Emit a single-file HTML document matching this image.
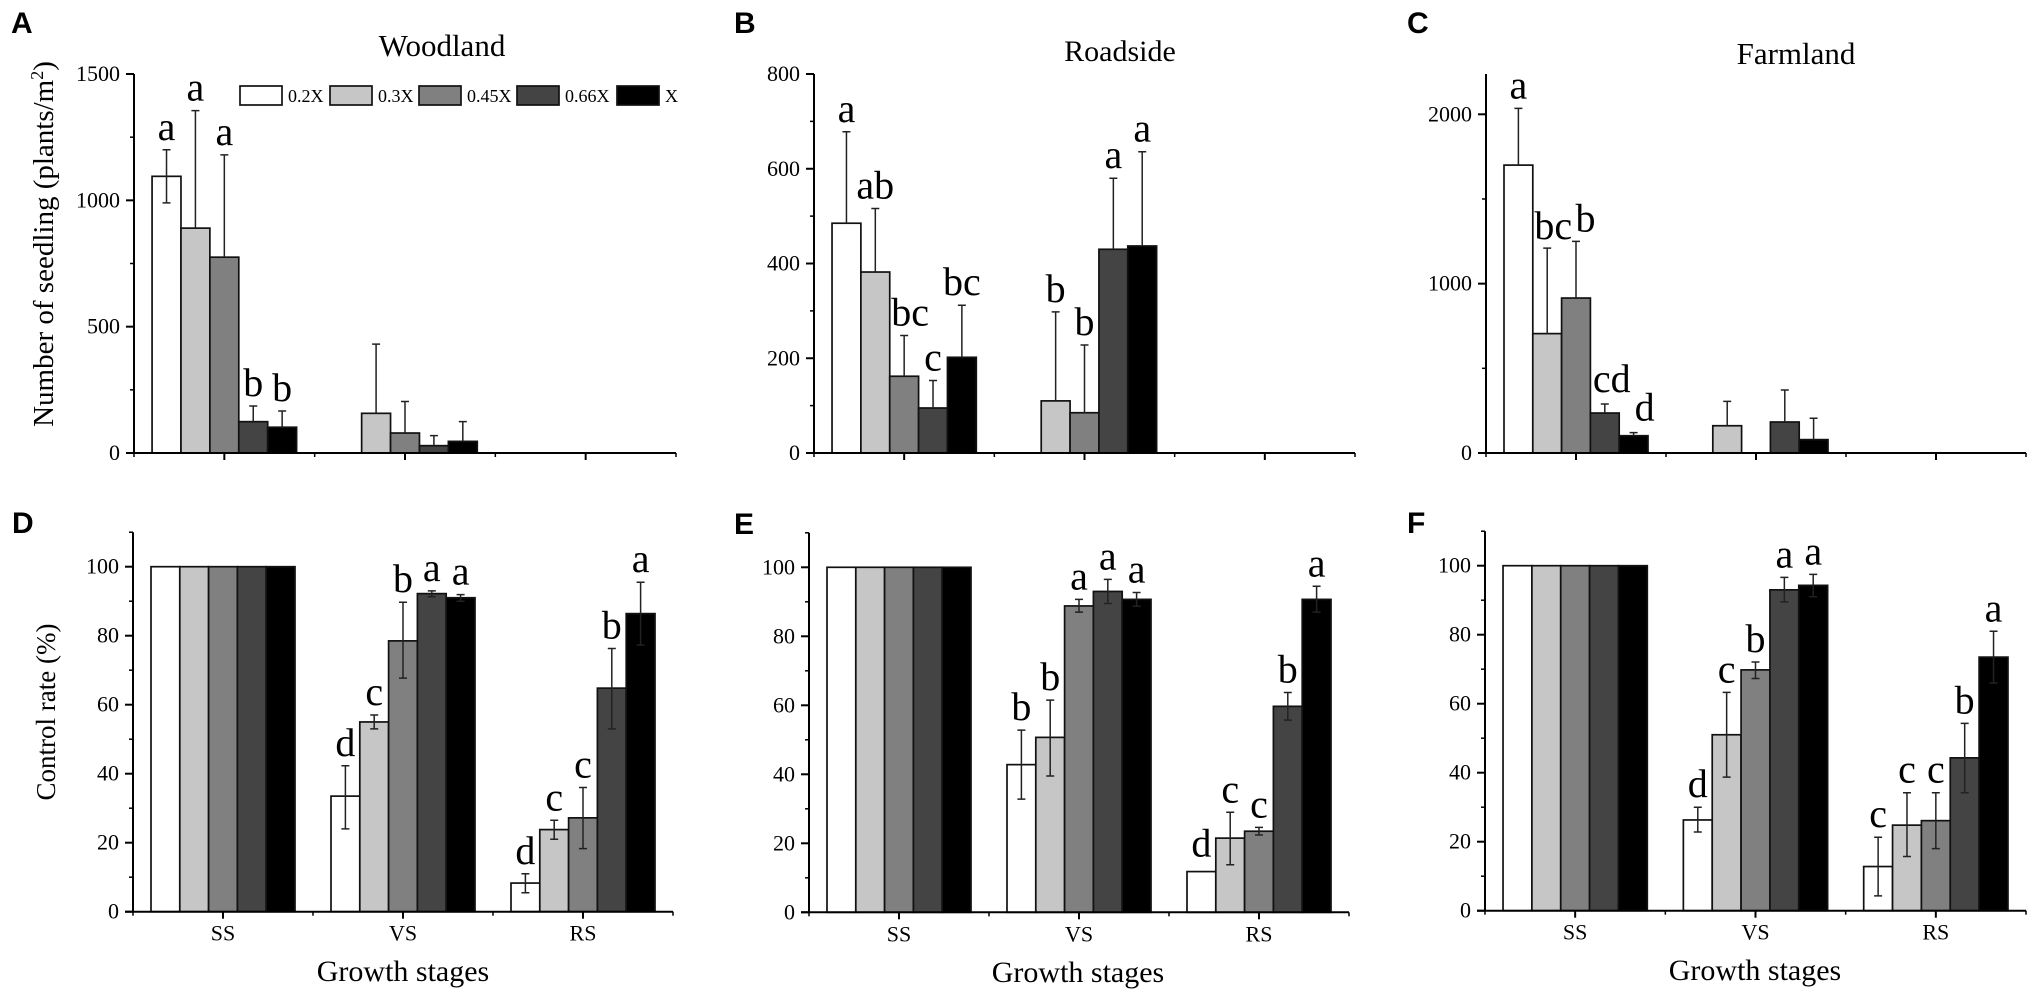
<!DOCTYPE html>
<html lang="en">
<head>
<meta charset="utf-8">
<title>Seedling number and control rate by growth stage</title>
<style>
html,body{margin:0;padding:0;background:#fff;}
svg{display:block;}
text{font-family:"Liberation Serif",serif;fill:#000;}
.panel-letter{font-family:"Liberation Sans",sans-serif;font-weight:700;font-size:30px;}
</style>
</head>
<body>
<svg id="figure" xmlns="http://www.w3.org/2000/svg" width="2033" height="992" viewBox="0 0 2033 992">
  <rect x="0" y="0" width="2033" height="992" fill="#fff"/>
  <text class="panel-letter" x="11" y="33">A</text>
  <text class="panel-letter" x="734" y="33">B</text>
  <text class="panel-letter" x="1407" y="33">C</text>
  <text class="panel-letter" x="12" y="533">D</text>
  <text class="panel-letter" x="734" y="534">E</text>
  <text class="panel-letter" x="1407" y="533">F</text>

  <text x="442" y="56" text-anchor="middle" font-size="31">Woodland</text>
  <text x="1120" y="61" text-anchor="middle" font-size="30">Roadside</text>
  <text x="1796" y="64" text-anchor="middle" font-size="31">Farmland</text>

  <text transform="translate(53,244) rotate(-90)" text-anchor="middle" font-size="29">Number of seedling (plants/m<tspan font-size="18" dy="-10">2</tspan><tspan dy="10">)</tspan></text>
  <text transform="translate(55,712) rotate(-90)" text-anchor="middle" font-size="27">Control rate (%)</text>

  <text x="403" y="981" text-anchor="middle" font-size="30">Growth stages</text>
  <text x="1078" y="982" text-anchor="middle" font-size="30">Growth stages</text>
  <text x="1755" y="980" text-anchor="middle" font-size="30">Growth stages</text>

  <g id="legend"></g>
</svg>
<script>
const categories = ['SS', 'VS', 'RS'];
const seriesNames = ['0.2X', '0.3X', '0.45X', '0.66X', 'X'];
const seriesFills = ['#ffffff', '#c6c6c6', '#808080', '#444444', '#000000'];

const woodlandValues = [[1095, 890, 775, 124, 102], [0, 157, 79, 29, 46], [0, 0, 0, 0, 0]];
const woodlandUpper = [[1200, 1355, 1180, 186, 166], [null, 431, 204, 69, 124], [null, null, null, null, null]];
const woodlandLower = [[990, null, null, null, null], [null, null, null, null, null], [null, null, null, null, null]];
const woodlandLetters = [['a', 'a', 'a', 'b', 'b'], ['', '', '', '', ''], ['', '', '', '', '']];
const woodlandTicks = [0, 500, 1000, 1500];
const woodlandMinorTicks = [250, 750, 1250];

const roadsideValues = [[485, 382, 162, 95, 202], [0, 110, 85, 430, 437], [0, 0, 0, 0, 0]];
const roadsideUpper = [[678, 516, 248, 153, 312], [null, 298, 228, 580, 636], [null, null, null, null, null]];
const roadsideLower = [[null, null, null, null, null], [null, null, null, null, null], [null, null, null, null, null]];
const roadsideLetters = [['a', 'ab', 'bc', 'c', 'bc'], ['', 'b', 'b', 'a', 'a'], ['', '', '', '', '']];
const roadsideTicks = [0, 200, 400, 600, 800];
const roadsideMinorTicks = [100, 300, 500, 700];

const farmlandValues = [[1700, 705, 915, 236, 102], [0, 161, 0, 183, 79], [0, 0, 0, 0, 0]];
const farmlandUpper = [[2035, 1210, 1250, 289, 120], [null, 305, null, 372, 205], [null, null, null, null, null]];
const farmlandLower = [[null, null, null, null, null], [null, null, null, null, null], [null, null, null, null, null]];
const farmlandLetters = [['a', 'bc', 'b', 'cd', 'd'], ['', '', '', '', ''], ['', '', '', '', '']];
const farmlandTicks = [0, 1000, 2000];
const farmlandMinorTicks = [500, 1500];

const rateTicks = [0, 20, 40, 60, 80, 100];
const rateMinorTicks = [10, 30, 50, 70, 90, 110];

const woodRateValues = [[100, 100, 100, 100, 100], [33.5, 55, 78.5, 92.2, 91], [8.3, 23.8, 27.2, 64.8, 86.4]];
const woodRateUpper = [[null, null, null, null, null], [42.3, 57, 89.7, 93, 91.9], [11, 26.5, 36, 76.3, 95.5]];
const woodRateLower = [[null, null, null, null, null], [24, 53, 67.7, 91.3, 90], [5.5, 21, 18.3, 53, 77.3]];
const woodRateLetters = [['', '', '', '', ''], ['d', 'c', 'b', 'a', 'a'], ['d', 'c', 'c', 'b', 'a']];

const roadRateValues = [[100, 100, 100, 100, 100], [42.8, 50.7, 88.8, 93, 90.7], [11.8, 21.5, 23.5, 59.7, 90.7]];
const roadRateUpper = [[null, null, null, null, null], [52.8, 61.5, 90.7, 96.5, 92.7], [11.8, 29, 24.6, 63.7, 94.5]];
const roadRateLower = [[null, null, null, null, null], [32.8, 39.5, 87, 89.5, 88.7], [null, 13.8, 22.4, 55.7, 87]];
const roadRateLetters = [['', '', '', '', ''], ['b', 'b', 'a', 'a', 'a'], ['d', 'c', 'c', 'b', 'a']];

const farmRateValues = [[100, 100, 100, 100, 100], [26.3, 51, 69.8, 93, 94.3], [12.8, 24.8, 26.1, 44.3, 73.5]];
const farmRateUpper = [[null, null, null, null, null], [30, 63.3, 72.1, 96.6, 97.5], [21.3, 34.2, 34.2, 54.3, 81]];
const farmRateLower = [[null, null, null, null, null], [22.8, 38.7, 67.3, 89.5, 91], [4.3, 15.7, 18, 34.2, 66]];
const farmRateLetters = [['', '', '', '', ''], ['d', 'c', 'b', 'a', 'a'], ['c', 'c', 'c', 'b', 'a']];

const panels = [
  { id: 'a', left: 134, right: 676, bottom: 453, top: 74, max: 1500, values: woodlandValues, upper: woodlandUpper, lower: woodlandLower, letters: woodlandLetters, ticks: woodlandTicks, minor: woodlandMinorTicks, catLabels: false, shift: {} },
  { id: 'b', left: 814, right: 1355, bottom: 453, top: 74, max: 800, values: roadsideValues, upper: roadsideUpper, lower: roadsideLower, letters: roadsideLetters, ticks: roadsideTicks, minor: roadsideMinorTicks, catLabels: false, shift: { '0-2': [6, 0] } },
  { id: 'c', left: 1486, right: 2026, bottom: 453, top: 74, max: 2238, values: farmlandValues, upper: farmlandUpper, lower: farmlandLower, letters: farmlandLetters, ticks: farmlandTicks, minor: farmlandMinorTicks, catLabels: false, shift: { '0-1': [6, 1], '0-2': [9.5, 0], '0-3': [7, -2], '0-4': [11, -2] } },
  { id: 'd', left: 133, right: 673, bottom: 911.7, top: 532.2, max: 110, values: woodRateValues, upper: woodRateUpper, lower: woodRateLower, letters: woodRateLetters, ticks: rateTicks, minor: rateMinorTicks, catLabels: true, shift: {} },
  { id: 'e', left: 809, right: 1349, bottom: 912.3, top: 532.8, max: 110, values: roadRateValues, upper: roadRateUpper, lower: roadRateLower, letters: roadRateLetters, ticks: rateTicks, minor: rateMinorTicks, catLabels: true, shift: { '2-0': [0, -5] } },
  { id: 'f', left: 1485, right: 2026, bottom: 910.7, top: 531.2, max: 110, values: farmRateValues, upper: farmRateUpper, lower: farmRateLower, letters: farmRateLetters, ticks: rateTicks, minor: rateMinorTicks, catLabels: true, shift: {} }
];

const NS = 'http://www.w3.org/2000/svg';
const figure = document.getElementById('figure');

function make(tag, attrs, parent) {
  const node = document.createElementNS(NS, tag);
  Object.keys(attrs).forEach(function (k) { node.setAttribute(k, attrs[k]); });
  parent.appendChild(node);
  return node;
}

panels.forEach(function (p) {
  const catWidth = (p.right - p.left) / categories.length;
  const barWidth = catWidth * 0.8 / seriesNames.length;
  const xCenter = function (c) { return p.left + (c + 0.5) * catWidth; };
  const xBar = function (c, s) { return xCenter(c) - catWidth * 0.4 + s * barWidth; };
  const yScale = function (v) { return p.bottom - (v / p.max) * (p.bottom - p.top); };

  const g = make('g', {}, figure);
  
  

  p.values.forEach(function (row, c) {
    row.forEach(function (v, s) {
      const bar = make('rect', { x: xBar(c, s), y: yScale(v), width: barWidth, height: p.bottom - yScale(v), fill: seriesFills[s], stroke: '#111', 'stroke-width': 1.7 }, g);
      
      
    });
  });

  p.values.forEach(function (row, c) {
    row.forEach(function (v, s) {
      const up = p.upper[c][s];
      const low = p.lower[c][s];
      const cx = xBar(c, s) + barWidth / 2;
      if (up !== null && up !== v) {
        const bottomValue = low === null ? v : low;
        let d = 'M' + cx + ' ' + yScale(up) + 'L' + cx + ' ' + yScale(bottomValue);
        d += 'M' + (cx - 4) + ' ' + yScale(up) + 'L' + (cx + 4) + ' ' + yScale(up);
        if (low !== null) {
          d += 'M' + (cx - 4) + ' ' + yScale(low) + 'L' + (cx + 4) + ' ' + yScale(low);
        }
        const err = make('path', { d: d, fill: 'none', stroke: '#222', 'stroke-width': 1.5 }, g);
        
        
      }
      const letter = p.letters[c][s];
      if (letter) {
        const shift = p.shift[c + '-' + s] || [0, 0];
        const anchorValue = up === null ? v : up;
        const label = make('text', { x: cx + shift[0], y: yScale(anchorValue) - 10 + shift[1], 'text-anchor': 'middle', 'font-size': 40 }, g);
        label.textContent = letter;
        
        
      }
    });
  });

  const yAxis = make('line', { x1: p.left, x2: p.left, y1: p.top, y2: p.bottom, stroke: '#000', 'stroke-width': 2 }, g);
  
  
  const xAxis = make('line', { x1: p.left - 8, x2: p.right, y1: p.bottom, y2: p.bottom, stroke: '#000', 'stroke-width': 2 }, g);
  
  

  p.ticks.forEach(function (t) {
    const y = yScale(t);
    const tick = make('line', { x1: p.left - 8, x2: p.left, y1: y, y2: y, stroke: '#000', 'stroke-width': 2 }, g);
    
    
    const label = make('text', { x: p.left - 14, y: y + 7, 'text-anchor': 'end', 'font-size': 22 }, g);
    label.textContent = String(t);
    
    
  });
  p.minor.forEach(function (t) {
    const y = yScale(t);
    const tick = make('line', { x1: p.left - 4, x2: p.left, y1: y, y2: y, stroke: '#000', 'stroke-width': 1.5 }, g);
    
    
  });

  categories.forEach(function (name, c) {
    const cx = xCenter(c);
    const tick = make('line', { x1: cx, x2: cx, y1: p.bottom, y2: p.bottom + 7, stroke: '#000', 'stroke-width': 2 }, g);
    
    
    if (p.catLabels) {
      const label = make('text', { x: cx, y: p.bottom + 29, 'text-anchor': 'middle', 'font-size': 22 }, g);
      label.textContent = name;
      
      
    }
  });
  for (let c = 0; c <= categories.length; c++) {
    const x = p.left + c * catWidth;
    const tick = make('line', { x1: x, x2: x, y1: p.bottom, y2: p.bottom + 4, stroke: '#000', 'stroke-width': 1.5 }, g);
    
    
  }
});

const legend = document.getElementById('legend');
const legendBoxLefts = [240, 330, 419, 517, 617];
seriesNames.forEach(function (name, s) {
  const left = legendBoxLefts[s];
  const box = make('rect', { x: left, y: 86, width: 42, height: 19, fill: seriesFills[s], stroke: '#111', 'stroke-width': 1.7 }, legend);
  
  
  const label = make('text', { x: left + 48, y: 102, 'font-size': 18 }, legend);
  label.textContent = name;
  
  
});
</script>
</body>
</html>
